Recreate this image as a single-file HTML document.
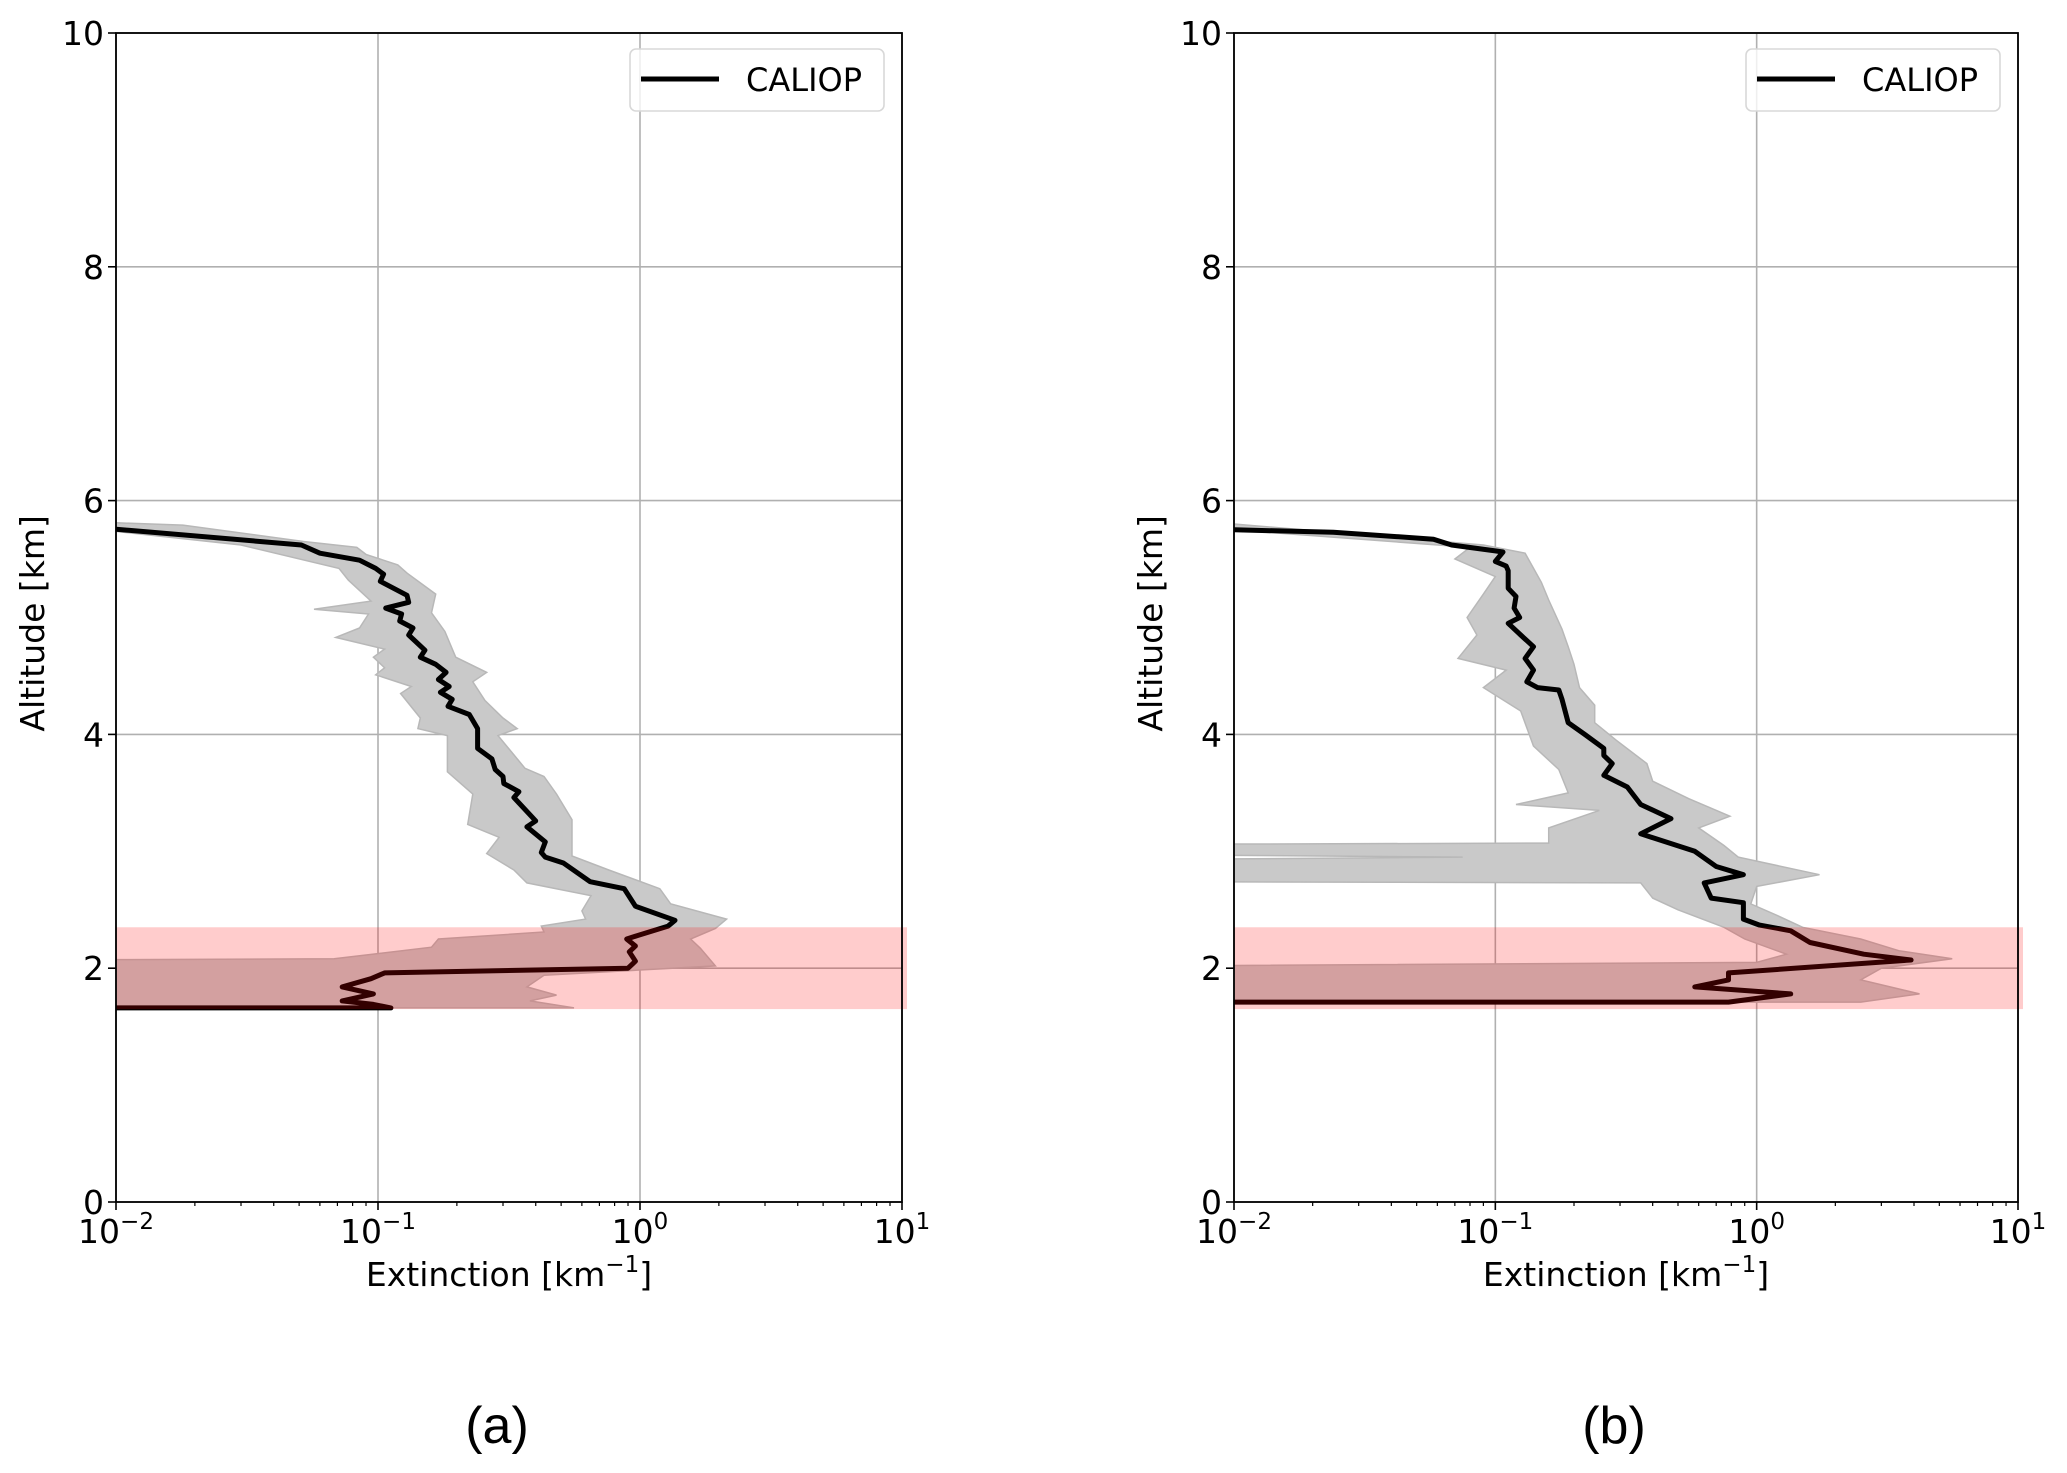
<!DOCTYPE html>
<html><head><meta charset="utf-8">
<style>
html,body{margin:0;padding:0;background:#fff;}
svg{display:block;font-family:"DejaVu Sans","Liberation Sans",sans-serif;}
</style></head>
<body>
<svg id="fig" width="2067" height="1473" viewBox="0 0 2067 1473" xmlns="http://www.w3.org/2000/svg"></svg>
<script>
// ---- Panel (a) data ----
const lineA_alt = [5.755,5.62,5.55,5.49,5.42,5.37,5.31,5.19,5.13,5.08,5.03,4.97,4.91,4.85,4.72,4.66,4.60,4.53,4.47,4.41,4.36,4.30,4.24,4.17,4.05,3.88,3.79,3.70,3.64,3.58,3.51,3.46,3.26,3.21,3.08,2.99,2.95,2.90,2.74,2.68,2.53,2.41,2.36,2.28,2.25,2.19,2.14,2.06,2.00,1.96,1.91,1.84,1.78,1.72,1.69,1.66,1.66];
const lineA_ext = [0.010,0.051,0.060,0.085,0.098,0.105,0.102,0.129,0.131,0.107,0.123,0.121,0.136,0.131,0.151,0.145,0.166,0.182,0.170,0.187,0.173,0.192,0.185,0.223,0.240,0.240,0.272,0.280,0.300,0.302,0.345,0.330,0.400,0.370,0.435,0.420,0.435,0.510,0.645,0.870,0.960,1.360,1.280,0.980,0.890,0.960,0.910,0.960,0.900,0.106,0.094,0.073,0.096,0.073,0.096,0.112,0.010];
const upA_alt = [5.81,5.79,5.65,5.60,5.54,5.45,5.38,5.20,5.04,4.88,4.66,4.53,4.45,4.29,4.14,4.05,3.99,3.71,3.64,3.49,3.27,2.96,2.84,2.68,2.55,2.42,2.34,2.25,2.17,2.02,1.94,1.84,1.77,1.72,1.66];
const upA_ext = [0.010,0.018,0.052,0.083,0.090,0.119,0.129,0.166,0.160,0.180,0.198,0.260,0.230,0.256,0.300,0.340,0.287,0.364,0.430,0.480,0.550,0.550,0.760,1.190,1.310,2.140,1.940,1.560,1.700,1.940,0.430,0.370,0.480,0.380,0.560];
const loA_alt = [5.81,5.62,5.42,5.32,5.14,5.07,5.03,4.91,4.83,4.73,4.66,4.57,4.51,4.41,4.35,4.14,4.05,3.99,3.68,3.49,3.23,3.12,2.98,2.84,2.73,2.62,2.49,2.42,2.36,2.31,2.25,2.18,2.08,2.07,1.66];
const loA_ext = [0.005,0.030,0.071,0.077,0.094,0.057,0.092,0.085,0.069,0.106,0.096,0.106,0.098,0.134,0.122,0.145,0.142,0.184,0.184,0.230,0.220,0.290,0.260,0.330,0.370,0.650,0.600,0.620,0.420,0.430,0.170,0.160,0.068,0.005,0.005];
// ---- Panel (b) data ----
const lineB_alt = [5.75,5.73,5.67,5.62,5.57,5.56,5.48,5.44,5.40,5.25,5.18,5.08,5.00,4.95,4.85,4.75,4.65,4.55,4.45,4.40,4.38,4.30,4.10,4.00,3.88,3.82,3.75,3.65,3.55,3.40,3.28,3.15,3.00,2.87,2.80,2.73,2.60,2.56,2.42,2.37,2.32,2.22,2.12,2.07,1.96,1.90,1.84,1.78,1.71,1.71];
const lineB_ext = [0.010,0.024,0.058,0.068,0.100,0.107,0.100,0.110,0.112,0.112,0.120,0.118,0.124,0.112,0.125,0.140,0.130,0.140,0.132,0.145,0.175,0.180,0.190,0.220,0.260,0.260,0.280,0.260,0.320,0.360,0.470,0.360,0.580,0.700,0.890,0.630,0.670,0.890,0.890,1.020,1.350,1.600,2.570,3.900,0.780,0.780,0.580,1.350,0.780,0.010];
const upB_alt = [5.80,5.62,5.55,5.30,5.15,4.90,4.75,4.60,4.40,4.25,4.10,3.95,3.75,3.60,3.45,3.30,3.20,3.05,2.95,2.80,2.70,2.55,2.45,2.35,2.25,2.15,2.08,2.00,1.90,1.78,1.71];
const upB_ext = [0.010,0.090,0.130,0.150,0.160,0.180,0.190,0.200,0.210,0.240,0.240,0.290,0.380,0.400,0.550,0.790,0.600,0.750,0.850,1.740,1.000,0.950,1.200,1.500,2.500,3.500,5.600,3.000,2.500,4.200,2.500];
const loB_alt = [5.80,5.60,5.50,5.35,5.20,5.00,4.85,4.65,4.55,4.40,4.20,3.90,3.70,3.50,3.40,3.35,3.20,3.07,3.06,2.97,2.95,2.93,2.74,2.73,2.60,2.50,2.35,2.25,2.12,2.05,2.02,1.71];
const loB_ext = [0.005,0.080,0.070,0.100,0.090,0.078,0.085,0.072,0.110,0.090,0.125,0.140,0.175,0.190,0.120,0.250,0.160,0.160,0.005,0.005,0.075,0.005,0.005,0.360,0.400,0.500,0.750,0.900,1.300,1.000,0.005,0.005];
const xTicks = [-2,-1,0,1];
const yTicks = [0,2,4,6,8,10];
const bandA = [1.65,2.35];
const bandB = [1.65,2.35];

const NS = "http://www.w3.org/2000/svg";
const svg = document.getElementById('fig');
function mk(tag, attrs, parent){ const e=document.createElementNS(NS,tag); for(const k in attrs) e.setAttribute(k,attrs[k]); (parent||svg).appendChild(e); return e; }

const TOP=33, BOT=1202;
function panel(id, x0, x1, lAlt,lExt,uAlt,uExt,loAlt,loExt,band,label){
  const g = mk('g',{});
  
  
  const X = v => x0 + (Math.log10(v)+2)/3*(x1-x0);
  const Y = a => BOT - a/10*(BOT-TOP);
  const cp = mk('clipPath',{id:'clip'+id}, g);
  mk('rect',{x:x0,y:TOP,width:x1-x0,height:BOT-TOP},cp);
  xTicks.forEach(t=>{ const xx=x0+(t+2)/3*(x1-x0); const l=mk('line',{x1:xx,x2:xx,y1:TOP,y2:BOT,stroke:'#b0b0b0','stroke-width':1.6},g);  });
  yTicks.forEach(t=>{ const yy=Y(t); const l=mk('line',{x1:x0,x2:x1,y1:yy,y2:yy,stroke:'#b0b0b0','stroke-width':1.6},g);  });
  let pts=[];
  for(let i=0;i<uAlt.length;i++) pts.push(X(uExt[i]).toFixed(1)+','+Y(uAlt[i]).toFixed(1));
  for(let i=loAlt.length-1;i>=0;i--) pts.push(X(loExt[i]).toFixed(1)+','+Y(loAlt[i]).toFixed(1));
  const poly = mk('polygon',{points:pts.join(' '),fill:'#c9c9c9',stroke:'#b8b8b8','stroke-width':1.5,'clip-path':'url(#clip'+id+')'},g);
  
  
  let lp=[];
  for(let i=0;i<lAlt.length;i++) lp.push(X(lExt[i]).toFixed(1)+','+Y(lAlt[i]).toFixed(1));
  const pl = mk('polyline',{points:lp.join(' '),fill:'none',stroke:'#000','stroke-width':5,'stroke-linejoin':'round','clip-path':'url(#clip'+id+')'},g);
  
  
  const hb = mk('rect',{x:x0,y:Y(band[1]),width:x1-x0+5,height:Y(band[0])-Y(band[1]),fill:'#ff0000','fill-opacity':0.2},g);
  
  
  const fr = mk('rect',{x:x0,y:TOP,width:x1-x0,height:BOT-TOP,fill:'none',stroke:'#000','stroke-width':1.8},g);
  
  
  xTicks.forEach(t=>{
    const xx=x0+(t+2)/3*(x1-x0);
    mk('line',{x1:xx,x2:xx,y1:BOT,y2:BOT+8,stroke:'#000','stroke-width':1.6},g);
    const tx=mk('text',{x:xx,y:BOT+41,'font-size':33,'text-anchor':'middle',fill:'#000'},g);
    
    
    tx.appendChild(document.createTextNode('10'));
    const sup=mk('tspan',{'font-size':23,dy:-14},tx);
    sup.textContent = t<0 ? '\u2212'+(-t) : String(t);
    for(let m=2;m<10 && t<1;m++){ const mx=x0+(t+2+Math.log10(m))/3*(x1-x0); mk('line',{x1:mx,x2:mx,y1:BOT,y2:BOT+4,stroke:'#000','stroke-width':1.2},g);}
  });
  yTicks.forEach(t=>{
    const yy=Y(t);
    mk('line',{x1:x0-8,x2:x0,y1:yy,y2:yy,stroke:'#000','stroke-width':1.6},g);
    const tx=mk('text',{x:x0-12,y:yy+12,'font-size':33,'text-anchor':'end',fill:'#000'},g);
    
    
    tx.textContent=String(t);
  });
  const xl=mk('text',{x:(x0+x1)/2,y:1286,'font-size':33,'text-anchor':'middle',fill:'#000'},g);
  
  
  xl.appendChild(document.createTextNode('Extinction [km'));
  const s=mk('tspan',{'font-size':23,dy:-14},xl); s.textContent='\u22121';
  const s2=mk('tspan',{dy:14},xl); s2.textContent=']';
  const yl=mk('text',{x:0,y:0,'font-size':33,'text-anchor':'middle',fill:'#000',transform:'translate('+(x0-72)+','+Y(4.95)+') rotate(-90)'},g);
  
  
  yl.textContent='Altitude [km]';
  const lg=mk('g',{},g);
  
  
  mk('rect',{x:x1-272,y:49,width:254,height:62,rx:6,fill:'#fff','fill-opacity':0.8,stroke:'#d8d8d8','stroke-width':1.6},lg);
  mk('line',{x1:x1-261,x2:x1-183,y1:79,y2:79,stroke:'#000','stroke-width':5},lg);
  const lt=mk('text',{x:x1-156,y:91,'font-size':32,fill:'#000'},lg);
  
  
  lt.textContent='CALIOP';
  const pl2=mk('text',{x:(x0+x1)/2-12,y:1443,'font-size':52,'text-anchor':'middle',fill:'#000',"font-family":"Liberation Sans, sans-serif"},g);
  
  
  pl2.textContent=label;
}
panel('a',116,902,lineA_alt,lineA_ext,upA_alt,upA_ext,loA_alt,loA_ext,bandA,'(a)');
panel('b',1234,2018,lineB_alt,lineB_ext,upB_alt,upB_ext,loB_alt,loB_ext,bandB,'(b)');
</script>
</body></html>
